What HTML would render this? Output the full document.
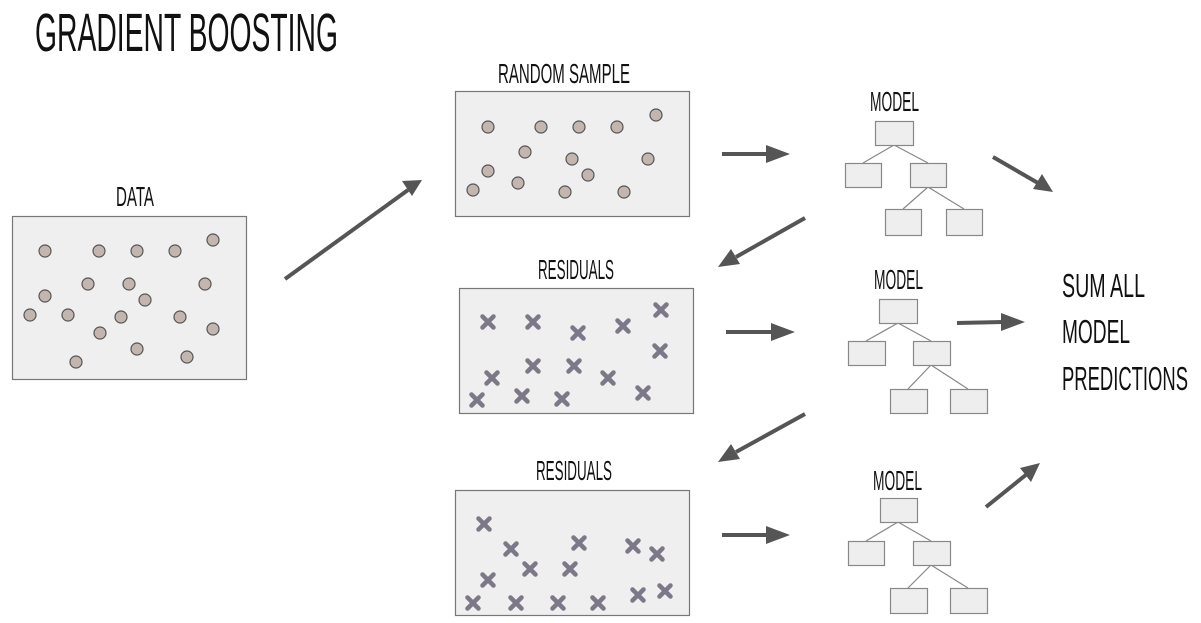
<!DOCTYPE html>
<html><head><meta charset="utf-8"><style>
html,body{margin:0;padding:0;background:#fff;}
svg{display:block;}
text{font-family:"Liberation Sans",sans-serif;fill:#111;}
</style></head><body>
<svg width="1201" height="623" viewBox="0 0 1201 623" xmlns="http://www.w3.org/2000/svg">
<defs>
<g id="c"><circle r="6" fill="#c2b6ae" stroke="#555" stroke-width="1.2"/></g>
<g id="x"><path d="M-5.5,-5.5L5.5,5.5M5.5,-5.5L-5.5,5.5" stroke="#7d7888" stroke-width="4.5" stroke-linecap="round"/></g>
</defs>

<text x="35" y="51" font-size="54" textLength="303" lengthAdjust="spacingAndGlyphs">GRADIENT BOOSTING</text>

<!-- Data -->
<text x="116" y="206" font-size="28" textLength="38" lengthAdjust="spacingAndGlyphs">DATA</text>
<rect x="12.5" y="216.5" width="234" height="163" fill="#efefef" stroke="#777" stroke-width="1.2"/>
<g>
<use href="#c" x="45" y="251"/><use href="#c" x="99" y="251"/><use href="#c" x="137" y="251"/><use href="#c" x="175" y="251"/><use href="#c" x="213" y="240"/>
<use href="#c" x="88" y="284"/><use href="#c" x="129" y="284"/><use href="#c" x="145" y="300"/><use href="#c" x="205" y="284"/><use href="#c" x="45" y="296"/>
<use href="#c" x="30" y="315"/><use href="#c" x="68" y="315"/><use href="#c" x="121" y="317"/><use href="#c" x="180" y="317"/><use href="#c" x="213" y="329"/>
<use href="#c" x="100" y="333"/><use href="#c" x="137" y="349"/><use href="#c" x="187" y="357"/><use href="#c" x="76" y="362"/>
</g>

<!-- arrows -->
<g stroke="#555" stroke-width="4" fill="#555">
<line x1="285" y1="279" x2="408" y2="190"/><polygon points="422,180 402,181 412,196" stroke="none"/>
<line x1="722" y1="154" x2="768" y2="154"/><polygon points="790,154 766,145 766,163" stroke="none"/>
<line x1="993" y1="157" x2="1038" y2="183"/><polygon points="1053,192 1042,174 1033,189" stroke="none"/>
<line x1="805" y1="218" x2="736" y2="257"/><polygon points="718,267 731,249 740,264" stroke="none"/>
<line x1="726" y1="332" x2="773" y2="332"/><polygon points="795,332 771,323 771,341" stroke="none"/>
<line x1="957" y1="323" x2="1003" y2="322"/><polygon points="1025,322 1001,313 1001,331" stroke="none"/>
<line x1="805" y1="414" x2="736" y2="452"/><polygon points="718,462 731,444 740,459" stroke="none"/>
<line x1="722" y1="535" x2="768" y2="535"/><polygon points="790,535 766,526 766,544" stroke="none"/>
<line x1="986" y1="507" x2="1027" y2="474"/><polygon points="1040,463 1020,468 1031,482" stroke="none"/>
</g>

<!-- Random sample -->
<text x="498" y="83" font-size="28" textLength="132" lengthAdjust="spacingAndGlyphs">RANDOM SAMPLE</text>
<rect x="455.5" y="91.5" width="234" height="125" fill="#efefef" stroke="#777" stroke-width="1.2"/>
<use href="#c" x="488" y="127"/><use href="#c" x="541" y="127"/><use href="#c" x="579" y="127"/><use href="#c" x="617" y="127"/><use href="#c" x="656" y="115"/>
<use href="#c" x="525" y="152"/><use href="#c" x="572" y="159"/><use href="#c" x="588" y="175"/><use href="#c" x="648" y="159"/><use href="#c" x="488" y="171"/>
<use href="#c" x="473" y="190"/><use href="#c" x="518" y="183"/><use href="#c" x="565" y="192"/><use href="#c" x="624" y="192"/>

<!-- Residuals 1 -->
<text x="538" y="279" font-size="28" textLength="76" lengthAdjust="spacingAndGlyphs">RESIDUALS</text>
<rect x="459.5" y="288.5" width="234" height="125" fill="#efefef" stroke="#777" stroke-width="1.2"/>
<use href="#x" x="488" y="322"/><use href="#x" x="533" y="322"/><use href="#x" x="578" y="333"/><use href="#x" x="623" y="326"/><use href="#x" x="661" y="310"/>
<use href="#x" x="533" y="366"/><use href="#x" x="574" y="366"/><use href="#x" x="660" y="351"/><use href="#x" x="492" y="378"/><use href="#x" x="608" y="378"/>
<use href="#x" x="477" y="400"/><use href="#x" x="522" y="396"/><use href="#x" x="562" y="399"/><use href="#x" x="643" y="393"/>

<!-- Residuals 2 -->
<text x="536" y="480" font-size="28" textLength="76" lengthAdjust="spacingAndGlyphs">RESIDUALS</text>
<rect x="455.5" y="490.5" width="234" height="125" fill="#efefef" stroke="#777" stroke-width="1.2"/>
<use href="#x" x="484" y="524"/><use href="#x" x="511" y="549"/><use href="#x" x="579" y="543"/><use href="#x" x="633" y="546"/><use href="#x" x="657" y="554"/>
<use href="#x" x="530" y="569"/><use href="#x" x="570" y="569"/><use href="#x" x="488" y="580"/><use href="#x" x="473" y="603"/><use href="#x" x="516" y="603"/>
<use href="#x" x="558" y="603"/><use href="#x" x="598" y="603"/><use href="#x" x="638" y="595"/><use href="#x" x="665" y="591"/>

<!-- Trees -->
<g fill="#eeeeee" stroke="#888" stroke-width="1.2">
<text x="870" y="111" font-size="28" textLength="49" lengthAdjust="spacingAndGlyphs" stroke="none" fill="#111">MODEL</text>
<line x1="894" y1="145" x2="863" y2="163"/><line x1="894" y1="145" x2="928" y2="163"/>
<line x1="928" y1="187" x2="903" y2="209"/><line x1="928" y1="187" x2="964" y2="209"/>
<rect x="875.5" y="121.5" width="38" height="24"/><rect x="845.5" y="163.5" width="36" height="24"/><rect x="910.5" y="163.5" width="36" height="24"/>
<rect x="885.5" y="209.5" width="36" height="26"/><rect x="946.5" y="209.5" width="36" height="26"/>

<text x="874" y="289" font-size="28" textLength="49" lengthAdjust="spacingAndGlyphs" stroke="none" fill="#111">MODEL</text>
<line x1="898" y1="323" x2="866" y2="341"/><line x1="898" y1="323" x2="931" y2="341"/>
<line x1="931" y1="365" x2="908" y2="389"/><line x1="931" y1="365" x2="968" y2="389"/>
<rect x="879.5" y="299.5" width="38" height="24"/><rect x="848.5" y="341.5" width="37" height="24"/><rect x="913.5" y="341.5" width="37" height="24"/>
<rect x="890.5" y="389.5" width="37" height="24"/><rect x="950.5" y="389.5" width="37" height="24"/>

<text x="873" y="490" font-size="28" textLength="49" lengthAdjust="spacingAndGlyphs" stroke="none" fill="#111">MODEL</text>
<line x1="898" y1="522" x2="866" y2="541"/><line x1="898" y1="522" x2="931" y2="541"/>
<line x1="931" y1="565" x2="908" y2="588"/><line x1="931" y1="565" x2="968" y2="588"/>
<rect x="880.5" y="498.5" width="37" height="24"/><rect x="848.5" y="541.5" width="36" height="24"/><rect x="913.5" y="541.5" width="37" height="24"/>
<rect x="890.5" y="588.5" width="37" height="25"/><rect x="950.5" y="588.5" width="37" height="25"/>
</g>

<!-- Sum -->
<text x="1062" y="297" font-size="33" textLength="83" lengthAdjust="spacingAndGlyphs">SUM ALL</text>
<text x="1062" y="343" font-size="33" textLength="68" lengthAdjust="spacingAndGlyphs">MODEL</text>
<text x="1062" y="390" font-size="33" textLength="126" lengthAdjust="spacingAndGlyphs">PREDICTIONS</text>
</svg>
</body></html>
